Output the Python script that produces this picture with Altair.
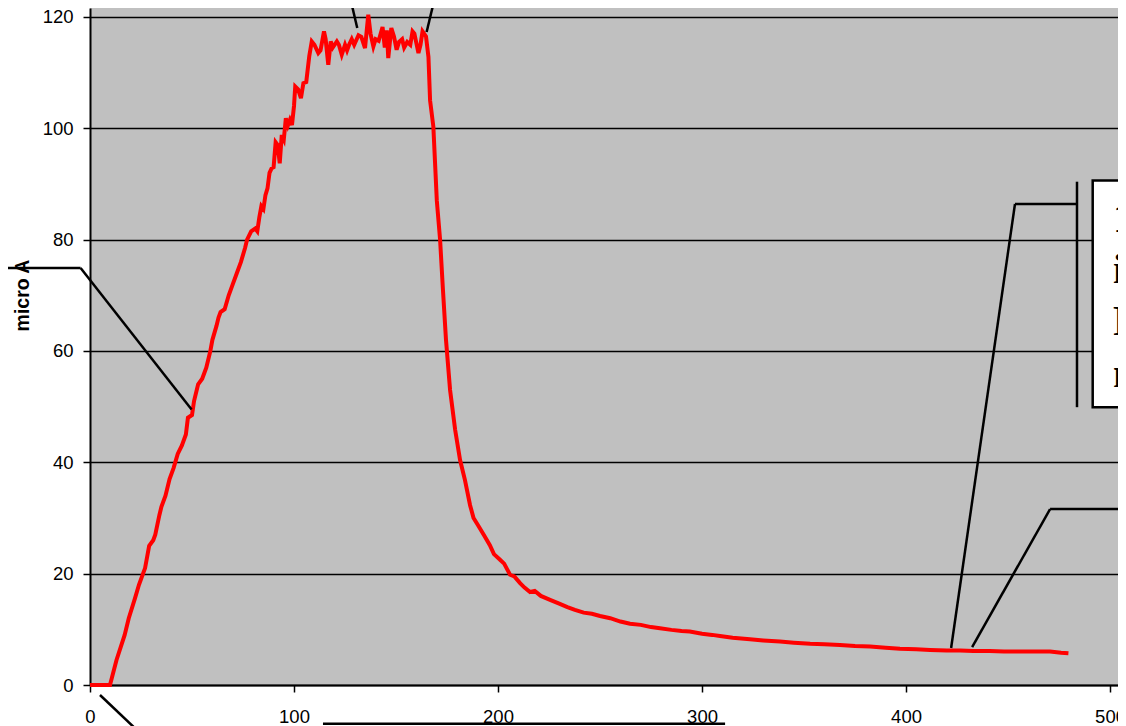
import altair as alt
import pandas as pd

# ---- data ----
t_vals = [0, 9.8, 13, 17, 19, 22, 24, 26, 27, 29, 31, 32, 34, 35, 37, 39, 41, 43, 45, 47, 48, 50,
          51, 53, 55, 57, 59, 60, 62, 63, 64, 66, 68, 70, 72, 74, 76, 77, 79, 81, 82, 83, 84, 85,
          86, 87, 88, 89, 90, 91, 92, 93, 94, 95, 96, 97, 98, 99, 100, 100.6, 102, 103.4, 104.6,
          106, 107.5, 108.7, 110, 111.9, 113, 114.7, 115.5, 116.8, 118, 119, 121, 122, 123.4, 125,
          126, 127, 128.3, 129.5, 131.6, 133, 134.8, 136.4, 137.5, 138.9, 140, 141.5, 143.4, 144.5,
          145.5, 146.2, 147.7, 149, 150.3, 151.5, 153, 154, 155.5, 157, 158.1, 159, 161, 162, 163,
          164.7, 165.9, 166.7, 168.3, 170, 171.6, 173, 174.5, 176.5, 179, 181.4, 183.8, 186.3, 188,
          190.2, 193, 196, 198, 201, 203, 205.9, 208, 210.8, 213, 215.7, 218, 221, 225.5, 230, 234,
          237.7, 242, 246, 250, 255, 260, 264.7, 270, 275, 279.4, 285, 290, 294, 300, 305, 308.8,
          315, 323.5, 330, 338.2, 345, 353, 360, 367.6, 375, 382.4, 390, 397, 405, 411.8, 420,
          426.5, 433, 441, 448, 456, 463, 470.6, 476, 479.6]
current_vals = [0, 0, 4.5, 9, 12, 15.5, 18, 20, 21, 25, 26, 27, 30.5, 32, 34, 37, 39, 41.5, 43, 45, 48,
                48.5, 51, 54, 55, 57, 60, 62, 64.5, 66, 67, 67.5, 70, 72, 74, 76, 78.5, 80, 81.5, 82,
                81.5, 84, 86, 85.5, 88, 89.2, 92, 92.8, 93, 97.5, 97, 93.7, 98.8, 98, 101.8, 100.5,
                101.5, 100.6, 104, 107.5, 107, 105.4, 108.1, 108.3, 113, 115.6, 115, 113.5, 114,
                117.4, 116, 111.4, 115.6, 114.5, 115.6, 115, 113.2, 115, 114, 115, 116, 115, 116.7,
                116.4, 114.4, 120.4, 117, 114.7, 116, 115.7, 118.2, 114.5, 117.6, 112.6, 118, 116.5,
                114.1, 115.5, 116, 114.5, 115.5, 115, 117.4, 117, 113.5, 115, 117.4, 116.5, 112.8,
                105, 100.3, 87, 80, 71, 62, 53, 45.8, 40.4, 36.8, 32.3, 30, 28.7, 27, 25.1, 23.5,
                22.5, 21.8, 19.8, 19.5, 18.3, 17.5, 16.7, 16.9, 16, 15.3, 14.6, 14, 13.5, 13, 12.8,
                12.4, 12, 11.4, 11, 10.8, 10.4, 10.2, 9.9, 9.7, 9.6, 9.2, 9, 8.8, 8.5, 8.2, 8, 7.8,
                7.6, 7.4, 7.3, 7.2, 7, 6.9, 6.7, 6.5, 6.4, 6.3, 6.2, 6.2, 6.1, 6.1, 6.0, 6.0, 6.0,
                6.0, 5.8, 5.7]

x_ticks = [0, 100, 200, 300, 400, 500]
y_ticks = [0, 20, 40, 60, 80, 100, 120]
y_title = "micro A"

# callout leader segments (data units): x, y, x2, y2
seg_x = [-50, -4.6, 125.5, 171.1, 453.4, 483.8, 453.4, 470.6, 506.9, 470.6, 4.9, 114.2]
seg_y = [74.9, 74.9, 126.6, 126.6, 86.4, 90.4, 86.4, 31.6, 35.9, 31.6, -1.8, -6.95]
seg_x2 = [-4.6, 49.8, 131.0, 165.0, 483.8, 483.8, 422.1, 510, 506.9, 432.4, 28.2, 311.3]
seg_y2 = [74.9, 49.5, 118.0, 117.3, 86.4, 49.9, 6.65, 31.6, -10, 6.8, -9.9, -6.95]

# callout box (data units) and its visible text
box_x, box_x2, box_y, box_y2 = [491.5], [560], [90.6], [49.9]
note_lines = ["1", "i", "F", "n"]
note_x = [501.5, 501.5, 501.5, 501.5]
note_y = [81.4, 72.2, 62.9, 53.5]

XD = [0, 503.9]
YD = [0, 121.6]

df = pd.DataFrame({"t": t_vals, "i": current_vals})
segs = pd.DataFrame({"x": seg_x, "y": seg_y, "x2": seg_x2, "y2": seg_y2})
box = pd.DataFrame({"x": box_x, "x2": box_x2, "y": box_y, "y2": box_y2})
notes = pd.DataFrame({"x": note_x, "y": note_y, "txt": note_lines})

xs = alt.Scale(domain=XD, nice=False, zero=False)
ys = alt.Scale(domain=YD, nice=False, zero=False)

line = alt.Chart(df).mark_line(color="#FF0000", strokeWidth=4, strokeJoin="miter").encode(
    x=alt.X("t:Q", scale=xs, title=None,
            axis=alt.Axis(values=x_ticks, grid=False, domainColor="black", domainWidth=2,
                          tickColor="black", tickWidth=1.5, tickSize=7, labelPadding=15,
                          labelFont="Liberation Sans", labelFontSize=18.5, labelColor="black",
                          labelFlush=False, labelOverlap=False)),
    y=alt.Y("i:Q", scale=ys, title=y_title,
            axis=alt.Axis(values=y_ticks, grid=True, gridColor="black", gridWidth=1.3,
                          domainColor="black", domainWidth=2, tickColor="black", tickWidth=1.5,
                          tickSize=7, labelPadding=10, labelFont="Liberation Sans",
                          labelFontSize=18.5, labelColor="black", labelFlush=False,
                          titleFont="Liberation Sans", titleFontSize=19.5, titleFontWeight="bold",
                          titleColor="black", titleAngle=270, titleX=-62, titleY=287,
                          titleAlign="center", titleBaseline="alphabetic")),
)

rules = alt.Chart(segs).mark_rule(color="black", strokeWidth=2.5, clip=False).encode(
    x=alt.X("x:Q", scale=xs), y=alt.Y("y:Q", scale=ys),
    x2="x2:Q", y2="y2:Q",
)

rect = alt.Chart(box).mark_rect(fill="white", stroke="black", strokeWidth=2.5, clip=False).encode(
    x=alt.X("x:Q", scale=xs), x2="x2:Q", y=alt.Y("y:Q", scale=ys), y2="y2:Q",
)

text = alt.Chart(notes).mark_text(font="Liberation Serif", fontWeight="bold", fontSize=42,
                                  align="left", baseline="alphabetic", color="black",
                                  clip=False).encode(
    x=alt.X("x:Q", scale=xs), y=alt.Y("y:Q", scale=ys), text="txt:N",
)

chart = alt.layer(line, rules, rect, text).properties(
    width=1028, height=677,
    autosize=alt.AutoSizeParams(type="none"),
    padding={"left": 82, "top": 0, "right": 0, "bottom": 41},
).configure_view(fill="#C0C0C0", strokeWidth=0)

chart.save("out.html", embed_options={"renderer": "svg", "actions": False})
